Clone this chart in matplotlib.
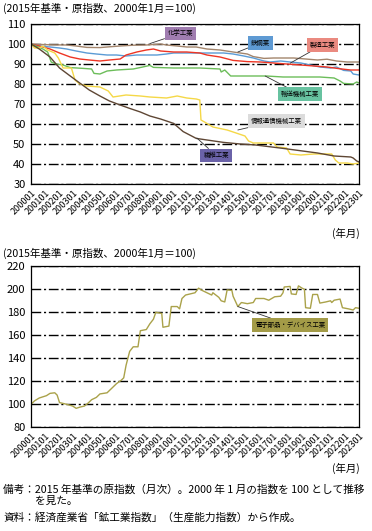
import matplotlib
matplotlib.use('Agg')
import matplotlib.pyplot as plt

plt.rcParams['font.family'] = ['Noto Sans CJK JP', 'DejaVu Sans']

# 月のインデックス (2000年1月 = 0) と指数
chem_m = [0, 7, 16, 30, 38, 47, 58, 66, 75, 86, 97, 109, 114, 123, 131, 139, 148, 159, 170, 182,
          187, 196, 204, 212, 221, 229, 241, 249, 257, 266, 276]
chem_v = [100, 99.8, 99.6, 99.5, 99, 98.3, 98.2, 98.6, 99, 99.4, 99.5, 100, 99.5, 99, 98.5, 98.5,
          97.5, 97, 96, 95, 93.7, 92.8, 93, 93, 93, 92.6, 92, 92.4, 91.5, 91, 91]

steel_m = [0, 7, 16, 24, 30, 38, 47, 55, 64, 72, 80, 89, 97, 106, 114, 120, 128, 137, 145, 153,
           162, 170, 179, 187, 196, 201, 210, 218, 227, 235, 243, 252, 257, 263, 269, 271, 276]
steel_v = [100, 99, 98.5, 98, 97.5, 96.5, 95.5, 95, 94.5, 94.5, 94, 94.5, 94.5, 94.5, 95, 95.5,
           95.5, 95.5, 95.5, 95.5, 95.5, 95, 94, 93, 91.5, 91, 91.5, 91, 90.5, 89.5, 88.5, 88,
           88.5, 86.8, 86.5, 85, 84.5]

mfg_m = [0, 7, 16, 24, 33, 41, 49, 58, 66, 75, 80, 89, 97, 103, 109, 120, 131, 142, 148, 159,
         170, 182, 193, 204, 215, 227, 238, 249, 260, 269, 276]
mfg_v = [100, 99, 97.5, 95.5, 93.5, 92.5, 92, 91.5, 92, 92.5, 94.5, 96, 97, 97.5, 96.5, 96, 96,
         95.5, 94.5, 93.5, 91.8, 91.2, 91, 90.5, 90, 89.5, 89, 88.5, 87.6, 87, 87]

trans_m = [0, 4, 10, 14, 17, 21, 27, 33, 44, 51, 53, 58, 64, 72, 86, 94, 100, 103, 120, 142,
           159, 160, 163, 168, 184, 198, 212, 227, 243, 255, 260, 263, 271, 274, 276]
trans_v = [100, 99, 97.5, 96, 91, 90, 89.5, 88.2, 87.8, 87.5, 85.3, 85, 86.5, 87, 87.5, 88.5,
           89.3, 88.3, 88, 88, 87.5, 86, 87, 84, 84, 84, 83.5, 83.5, 83.5, 83, 81.5, 80.3, 80,
           81, 80.5]

ict_m = [0, 3, 7, 10, 14, 20, 23, 27, 34, 37, 41, 47, 58, 65, 69, 80, 92, 100, 114, 123, 131,
         139, 142, 143, 146, 153, 165, 170, 180, 183, 187, 196, 204, 207, 215, 218, 227, 238,
         253, 256, 259, 266, 271, 276]
ict_v = [100, 98, 98, 99, 97, 95.5, 93, 88, 88, 82, 80, 79, 78.5, 76.5, 73.5, 74.5, 74, 73.5,
         73, 74, 73, 72.5, 72, 62, 61, 58.5, 57, 56, 54, 51.5, 50.5, 50.5, 50.5, 48.5, 48, 45,
         44.5, 45, 45, 42, 40.5, 40.5, 40, 40.5]

tex_m = [0, 7, 16, 24, 33, 41, 49, 58, 66, 75, 83, 92, 100, 109, 120, 128, 139, 148, 162, 176,
         189, 212, 241, 255, 269, 271, 274, 276]
tex_v = [100, 97.5, 93.5, 88, 84, 80.5, 77, 74, 71.5, 69.5, 67.8, 66, 64, 62.5, 60.3, 56.2,
         52.8, 52, 50.8, 50, 49.5, 47.8, 45.5, 44, 43.5, 43, 41.5, 41]

elec_m = [0, 3, 7, 13, 16, 20, 22, 24, 30, 35, 38, 41, 45, 48, 51, 55, 58, 64, 68, 72, 76, 78,
          80, 83, 86, 90, 92, 97, 100, 103, 105, 110, 111, 116, 118, 123, 125, 127, 130, 134,
          138, 141, 144, 148, 152, 153, 158, 160, 163, 165, 169, 170, 174, 177, 182, 187, 189,
          196, 200, 205, 210, 212, 213, 218, 219, 223, 225, 228, 230, 231, 235, 237, 241, 243,
          248, 252, 253, 255, 260, 262, 267, 271, 273, 276]
elec_v = [100, 103, 105.5, 107.5, 109.5, 110, 108, 101.5, 100, 98.5, 96.5, 97.5, 98.5, 101, 104,
          106, 109, 110, 114, 118, 121, 123, 134, 146, 150, 150, 164, 165, 170, 174, 180, 179,
          167, 168, 185, 185, 183, 192, 195, 196, 197, 201, 199, 197, 195, 197, 193, 190, 189,
          199.5, 199, 194, 185, 188.5, 187.5, 188.5, 192, 192, 190.5, 193.5, 194, 197, 202,
          202.5, 196, 195.5, 203, 201, 200, 184, 183.5, 195.5, 195.5, 188, 189, 190, 188.5,
          190.5, 191.5, 184, 183, 182, 184, 183.5]

year_ticks = list(range(0, 277, 12))
year_labels = [f'{2000 + i}01' for i in range(len(year_ticks))]

note_title = '(2015年基準・原指数、2000年1月＝100)'

fig = plt.figure(figsize=(3.72, 5.31), dpi=100)
ax1 = fig.add_axes([0.0833, 0.6535, 0.882, 0.3013])
ax2 = fig.add_axes([0.0833, 0.1953, 0.882, 0.3032])


def style_axis(ax, ymin, ymax, step):
    ax.set_xlim(0, 276)
    ax.set_ylim(ymin, ymax)
    ax.set_yticks(range(ymin, ymax + 1, step))
    ax.set_xticks(year_ticks)
    ax.set_xticklabels(year_labels, rotation=45, ha='right', rotation_mode='anchor')
    ax.tick_params(axis='x', length=0, pad=3, labelsize=6.5)
    ax.tick_params(axis='y', length=0, pad=4, labelsize=8)
    ax.set_axisbelow(True)
    ax.grid(axis='y', color='black', lw=1.0, dashes=(7, 2, 1.5, 2))
    for s in ax.spines.values():
        s.set_linewidth(0.9)
        s.set_color('black')
        s.set_zorder(4)


def tag(ax, text, xy, xytext, color):
    ax.annotate(text, xy=xy, xytext=xytext, fontsize=4.6, ha='center', va='center',
                color='black', zorder=5,
                bbox=dict(boxstyle='square,pad=0.45', fc=color, ec='none'),
                arrowprops=dict(arrowstyle='-', color='#333333', lw=0.6,
                                shrinkA=0, shrinkB=0))


style_axis(ax1, 30, 110, 10)
ax1.plot(chem_m, chem_v, color='#a3856c', lw=1.0, zorder=3)
ax1.plot(steel_m, steel_v, color='#5b9bd5', lw=1.0, zorder=3)
ax1.plot(mfg_m, mfg_v, color='#ee3524', lw=1.0, zorder=3)
ax1.plot(trans_m, trans_v, color='#6cbd5a', lw=1.0, zorder=3)
ax1.plot(ict_m, ict_v, color='#f5d847', lw=1.0, zorder=3)
ax1.plot(tex_m, tex_v, color='#5e4634', lw=1.0, zorder=3)

tag(ax1, '化学工業', (100, 100.2), (125.5, 105.3), '#a07db0')
tag(ax1, '鉄鋼業', (174, 96), (193, 100.5), '#5e9ad3')
tag(ax1, '製造工業', (218, 90.4), (245, 99.5), '#ea8a80')
tag(ax1, '輸送機械工業', (197, 84), (226, 75), '#67c2a0')
tag(ax1, '情報通信機械工業', (174, 57), (206.5, 61.5), '#dcdcdc')
tag(ax1, '繊維工業', (139.5, 53), (155.7, 44.3), '#6a62a8')

style_axis(ax2, 80, 220, 20)
ax2.plot(elec_m, elec_v, color='#aaa24a', lw=1.0, zorder=3)
tag(ax2, '電子部品・デバイス工業', (174, 185), (218, 169), '#a39b47')

fig.text(0.009, 1 - 8.5 / 531, note_title, fontsize=7.6, va='center')
fig.text(0.009, 1 - 253 / 531, note_title, fontsize=7.6, va='center')
fig.text(0.968, 1 - 233 / 531, '(年月)', fontsize=7.5, ha='right', va='center')
fig.text(0.968, 1 - 468 / 531, '(年月)', fontsize=7.5, ha='right', va='center')

fig.text(0.009, 1 - 489.5 / 531,
         '備考：2015 年基準の原指数（月次）。2000 年 1 月の指数を 100 として推移',
         fontsize=7.7, va='center')
fig.text(0.094, 1 - 500.5 / 531, 'を見た。', fontsize=7.7, va='center')
fig.text(0.009, 1 - 517.5 / 531,
         '資料：経済産業省「鉱工業指数」（生産能力指数）から作成。',
         fontsize=7.7, va='center')

fig.savefig('out.png', dpi=100)
